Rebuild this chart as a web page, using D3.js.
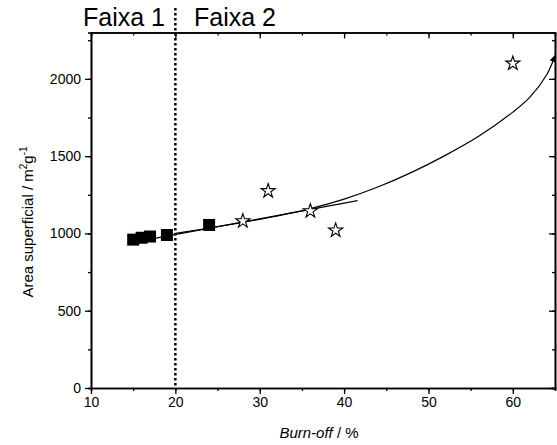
<!DOCTYPE html>
<html>
<head>
<meta charset="utf-8">
<script src="https://cdn.jsdelivr.net/npm/d3@7"></script>
<style>
  body { margin: 0; background: #fff; }
  text { font-family: Arial, "Liberation Sans", sans-serif; fill: #000; }
</style>
</head>
<body>
<div id="chart"></div>
<script>
// Faixa 1 (squares) and Faixa 2 (stars)
const squareX = [15, 16, 17, 19, 24];
const squareY = [960, 972, 980, 990, 1055];
const starX = [28, 31, 36, 39, 60];
const starY = [1080, 1275, 1145, 1020, 2100];

// straight fit line (two ends) and curved fit read at several points
const lineX = [14.8, 41.6];
const lineY = [940, 1212];
const curveX = [20, 24, 28, 32, 36, 40, 44, 48, 52, 56, 60, 62, 64, 65];
const curveY = [1000, 1035, 1072, 1112, 1160, 1222, 1300, 1395, 1505, 1630, 1785, 1880, 2025, 2150];

const xTicks = [10, 20, 30, 40, 50, 60];
const yTicks = [0, 500, 1000, 1500, 2000];
const boundaryX = 20;

const W = 557, H = 445;
const margin = { top: 32.5, right: 2, bottom: 57, left: 91 };
const width = W - margin.left - margin.right;
const height = H - margin.top - margin.bottom;

const svg = d3.select("#chart").append("svg")
  .attr("width", W).attr("height", H);

const defs = svg.append("defs");
defs.append("marker")
  .attr("id", "arrow")
  .attr("viewBox", "0 0 10 10")
  .attr("refX", 9).attr("refY", 5)
  .attr("markerWidth", 7).attr("markerHeight", 7)
  .attr("markerUnits", "userSpaceOnUse")
  .attr("orient", "auto")
  .append("path").attr("d", "M0,0L10,5L0,10Z").attr("fill", "#000");

const g = svg.append("g").attr("transform", `translate(${margin.left},${margin.top})`);

const x = d3.scaleLinear().domain([10, 65]).range([0, width]);
const y = d3.scaleLinear().domain([0, 2300]).range([height, 0]);

const xMinor = d3.range(10, 65.1, 5);
const yMinor = d3.range(0, 2300, 250);

// axes, major + minor ticks
function styleAxis(sel) {
  sel.select(".domain").attr("stroke", "#000").attr("stroke-width", 1.6);
  sel.selectAll(".tick line").attr("stroke", "#000").attr("stroke-width", 1.3);
  sel.selectAll(".tick text").style("font-size", "14px");
}

g.append("g").attr("transform", `translate(0,${height})`)
  .call(d3.axisBottom(x).tickValues(xMinor).tickSize(3).tickFormat(""))
  .call(styleAxis);
g.append("g").attr("transform", `translate(0,${height})`)
  .call(d3.axisBottom(x).tickValues(xTicks).tickSize(6).tickSizeOuter(0).tickPadding(3).tickFormat(d3.format("d")))
  .call(styleAxis);

g.append("g")
  .call(d3.axisTop(x).tickValues(xMinor).tickSize(-3).tickFormat(""))
  .call(styleAxis);
g.append("g")
  .call(d3.axisTop(x).tickValues(xTicks).tickSize(-6).tickSizeOuter(0).tickFormat(""))
  .call(styleAxis);

g.append("g")
  .call(d3.axisLeft(y).tickValues(yMinor).tickSize(3).tickFormat(""))
  .call(styleAxis);
g.append("g")
  .call(d3.axisLeft(y).tickValues(yTicks).tickSize(6).tickSizeOuter(0).tickPadding(4).tickFormat(d3.format("d")))
  .call(styleAxis);

g.append("g").attr("transform", `translate(${width},0)`)
  .call(d3.axisRight(y).tickValues(yMinor).tickSize(-3).tickFormat(""))
  .call(styleAxis);
g.append("g").attr("transform", `translate(${width},0)`)
  .call(d3.axisRight(y).tickValues(yTicks).tickSize(-6).tickSizeOuter(0).tickFormat(""))
  .call(styleAxis);

// boundary between the two ranges, running up between the titles
g.append("line")
  .attr("x1", x(boundaryX)).attr("x2", x(boundaryX))
  .attr("y1", 8 - margin.top).attr("y2", height)
  .attr("stroke", "#000").attr("stroke-width", 2.5)
  .attr("stroke-dasharray", "2.5,2.5");

// fits
g.append("path")
  .datum(d3.zip(lineX, lineY))
  .attr("fill", "none").attr("stroke", "#000").attr("stroke-width", 1.2)
  .attr("d", d3.line().x(d => x(d[0])).y(d => y(d[1])));

g.append("path")
  .datum(d3.zip(curveX, curveY))
  .attr("fill", "none").attr("stroke", "#000").attr("stroke-width", 1.2)
  .attr("marker-end", "url(#arrow)")
  .attr("d", d3.line().x(d => x(d[0])).y(d => y(d[1])).curve(d3.curveCatmullRom));

// points
g.selectAll(".sq")
  .data(d3.zip(squareX, squareY))
  .join("path")
  .attr("class", "sq")
  .attr("transform", d => `translate(${x(d[0])},${y(d[1])})`)
  .attr("d", d3.symbol(d3.symbolSquare, 144))
  .attr("fill", "#000");

g.selectAll(".star")
  .data(d3.zip(starX, starY))
  .join("path")
  .attr("class", "star")
  .attr("transform", d => `translate(${x(d[0])},${y(d[1])})`)
  .attr("d", d3.symbol(d3.symbolStar, 62))
  .attr("fill", "#fff").attr("stroke", "#000").attr("stroke-width", 1.1);

// range titles
svg.append("text").attr("x", 83).attr("y", 26).style("font-size", "25px").text("Faixa 1");
svg.append("text").attr("x", 194).attr("y", 26).style("font-size", "25px").text("Faixa 2");

// axis titles
const xl = svg.append("text")
  .attr("x", margin.left + width / 2 - 4).attr("y", 438)
  .attr("text-anchor", "middle").style("font-size", "15px");
xl.append("tspan").style("font-style", "italic").text("Burn-off");
xl.append("tspan").text(" / %");

const yl = svg.append("text")
  .attr("transform", `translate(33,222) rotate(-90)`)
  .attr("text-anchor", "middle").style("font-size", "15px");
yl.append("tspan").text("Area superficial / m");
yl.append("tspan").attr("dy", -6).style("font-size", "10px").text("2");
yl.append("tspan").attr("dy", 6).text("g");
yl.append("tspan").attr("dy", -6).style("font-size", "10px").text("-1");
</script>
</body>
</html>
